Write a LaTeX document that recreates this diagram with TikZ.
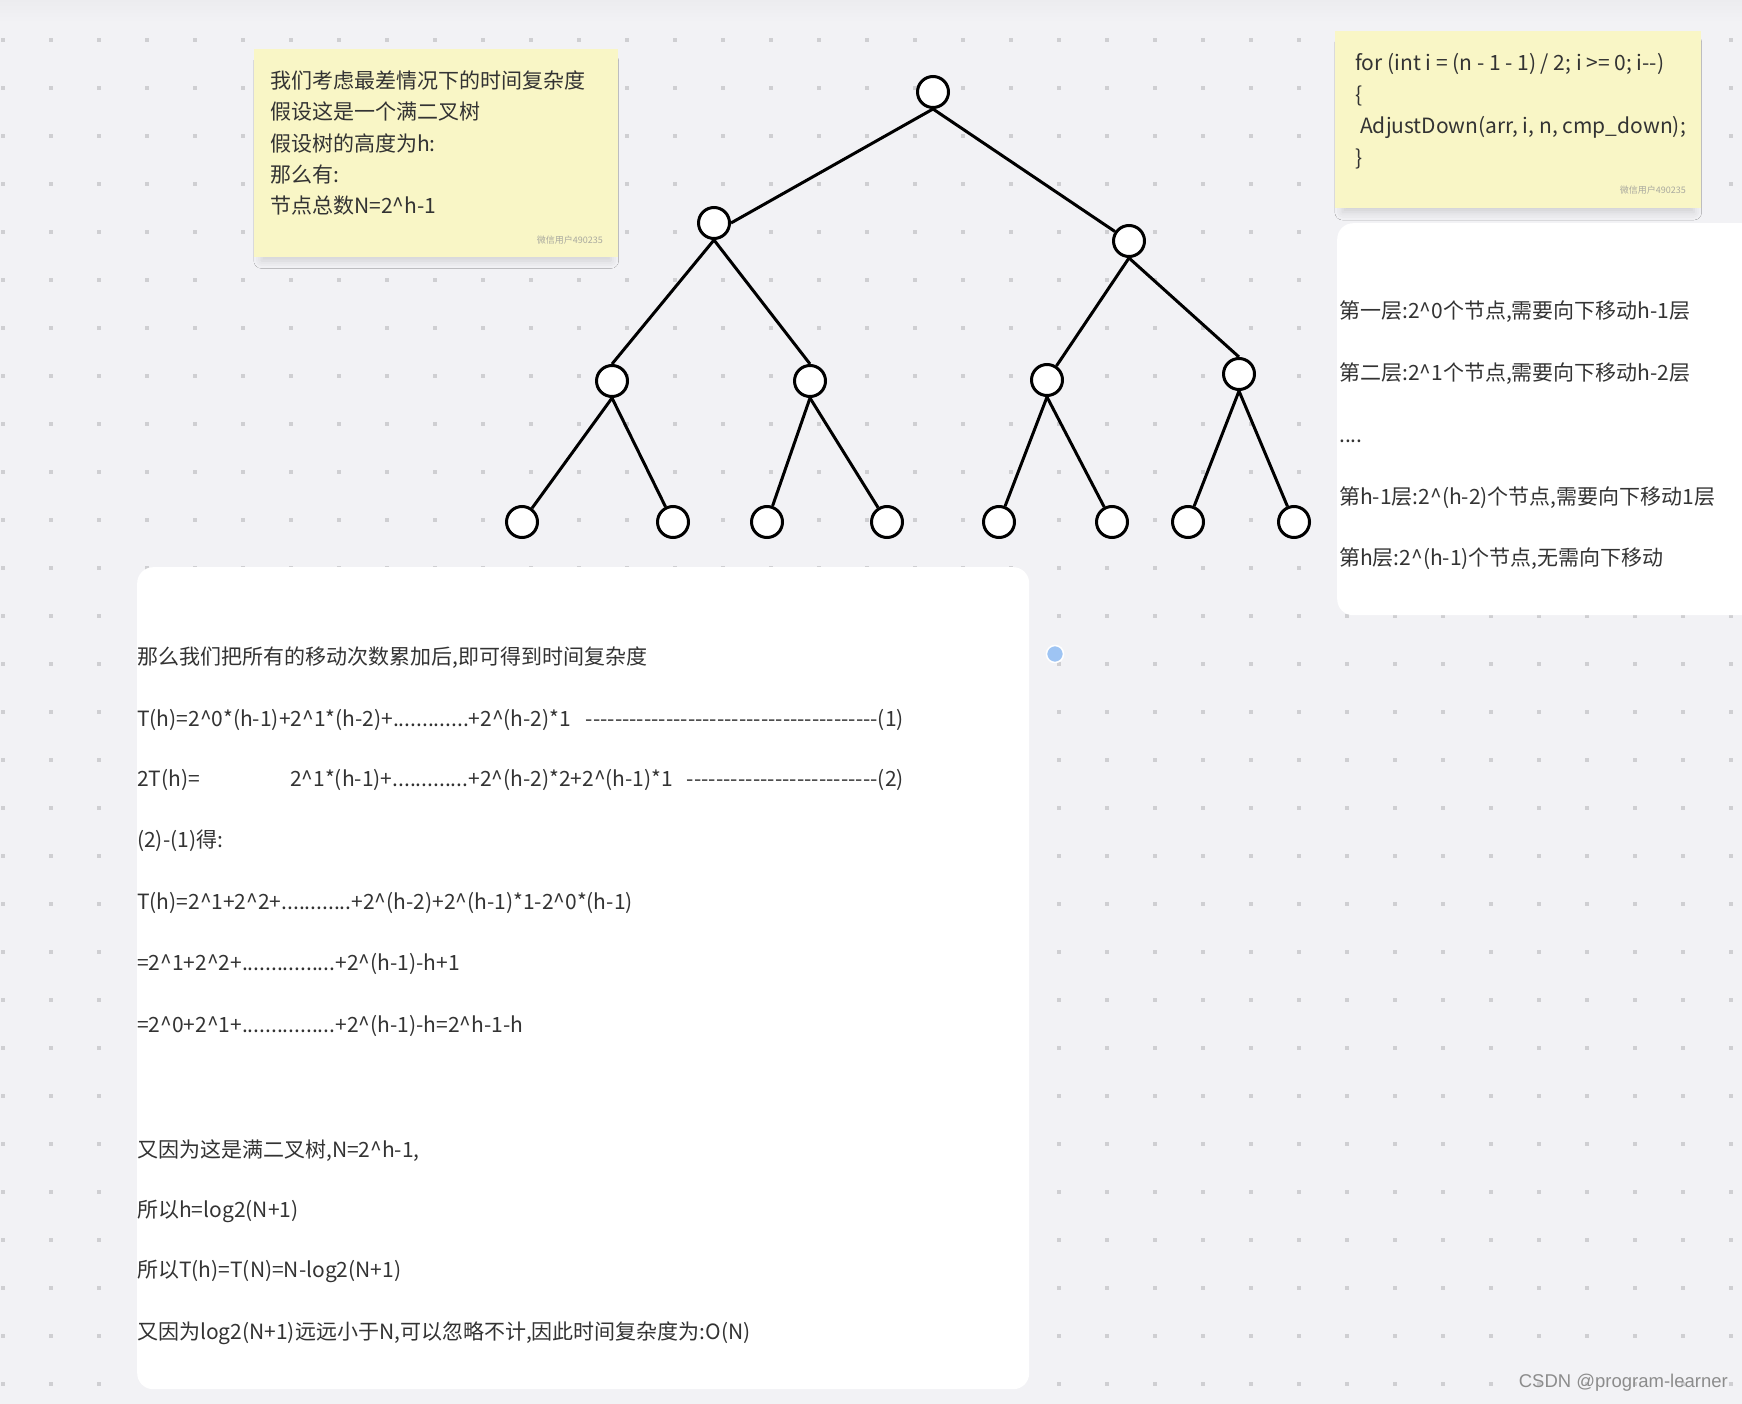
\documentclass[tikz,border=0pt]{standalone}
\usepackage{fontspec}
\setmainfont{Noto Sans CJK SC}
\newfontfamily\wmfont{Liberation Sans}
\usetikzlibrary{shadows.blur}
\definecolor{bgc}{HTML}{F2F2F5}
\definecolor{bgtop}{HTML}{ECECEF}
\definecolor{dotc}{HTML}{CFCFD2}
\definecolor{stickyc}{HTML}{F9F6C6}
\definecolor{txt}{HTML}{333333}
\definecolor{wmc}{HTML}{A9A99F}
\definecolor{bluedot}{HTML}{9EC4F3}
\definecolor{csdn}{HTML}{8C8C8C}
\begin{document}
\begin{tikzpicture}[x=1pt,y=-1pt,
  tnode/.style={circle,draw=black,line width=3pt,fill=white,minimum size=31pt,inner sep=0pt},
  edge/.style={line width=3pt,black},
  stickynote/.style={fill=stickyc,inner sep=0pt,anchor=north west,
    blur shadow={shadow xshift=0pt,shadow yshift=-8pt,shadow blur radius=8pt,shadow opacity=14,shadow scale=0.96}},
  panel/.style={fill=white,inner sep=0pt,anchor=north west,rounded corners=16pt},
  stxt/.style={anchor=base west,inner sep=0pt,text=txt,font=\fontsize{21}{25}\selectfont},
  dtxt/.style={anchor=base east,inner sep=0pt,text=txt,font=\fontsize{21}{25}\selectfont},
  wmtxt/.style={anchor=east,inner sep=0pt,text=wmc,font=\fontsize{9}{10}\selectfont},
]
\useasboundingbox (0,0) rectangle (1742,1404);
\fill[bgc] (0,0) rectangle (1742,1404);
\shade[top color=bgtop,bottom color=bgc] (0,0) rectangle (1742,22);
\foreach \i in {0,...,36}{
  \foreach \j in {0,...,28}{
    \fill[dotc] ({1+48*\i},{38+48*\j}) rectangle ++(4,4);
  }
}

% sticky notes
\node[stickynote,minimum width=364pt,minimum height=208pt] (s1) at (254,49) {};
\node[stickynote,minimum width=366pt,minimum height=177pt] (s2) at (1335,31) {};

% panels
\node[panel,minimum width=892pt,minimum height=822pt] (bp) at (137,567) {};
\node[panel,minimum width=440pt,minimum height=392pt] (rp) at (1337,223) {};
\node[circle,fill=bluedot,draw=white,line width=1.5pt,minimum size=17pt,inner sep=0pt] (bd) at (1055,654) {};

% sticky 1 text
\node[stxt] (s1a) at (270,88.8) {我们考虑最差情况下的时间复杂度};
\node[stxt] (s1b) at (270,119.8) {假设这是一个满二叉树};
\node[stxt] (s1c) at (270,151.8) {假设树的高度为h:};
\node[stxt] (s1d) at (270,182.8) {那么有:};
\node[stxt] (s1e) at (270,213.8) {节点总数N=2\textasciicircum h-1};
\node[wmtxt] (w1) at (603,240) {微信用户490235};

% sticky 2 text
\node[stxt] (s2a) at (1355,70.8) {for (int i = (n - 1 - 1) / 2; i >= 0; i-{}-)};
\node[stxt] (s2b) at (1355,102.3) {\{};
\node[stxt] (s2c) at (1360,133.8) {AdjustDown(arr, i, n, cmp\_down);};
\node[stxt] (s2d) at (1355,165.3) {\}};
\node[wmtxt] (w2) at (1686,190) {微信用户490235};

% right panel text
\node[stxt] (r1t) at (1339,318.8) {第一层:2\textasciicircum 0个节点,需要向下移动h-1层};
\node[stxt] (r2t) at (1339,380.8) {第二层:2\textasciicircum 1个节点,需要向下移动h-2层};
\node[stxt] (r3t) at (1339,442.8) {....};
\node[stxt] (r4t) at (1339,504.8) {第h-1层:2\textasciicircum (h-2)个节点,需要向下移动1层};
\node[stxt] (r5t) at (1339,565.8) {第h层:2\textasciicircum (h-1)个节点,无需向下移动};

% bottom panel text
\node[stxt] (b1) at (137,664.8) {那么我们把所有的移动次数累加后,即可得到时间复杂度};
\node[stxt] (b2) at (137,726.8) {T(h)=2\textasciicircum 0*(h-1)+2\textasciicircum 1*(h-2)+.............+2\textasciicircum (h-2)*1};
\node[dtxt] (b2d) at (904,726.8) {\hbox to 318pt{\xleaders\hbox{-}\hfill(1)}};
\node[stxt] (b3) at (137,786.8) {2T(h)=};
\node[stxt] (b3b) at (290,786.8) {2\textasciicircum 1*(h-1)+.............+2\textasciicircum (h-2)*2+2\textasciicircum (h-1)*1};
\node[dtxt] (b3d) at (904,786.8) {\hbox to 217pt{\xleaders\hbox{-}\hfill(2)}};
\node[stxt] (b4) at (137,847.8) {(2)-(1)得:};
\node[stxt] (b5) at (137,909.8) {T(h)=2\textasciicircum 1+2\textasciicircum 2+............+2\textasciicircum (h-2)+2\textasciicircum (h-1)*1-2\textasciicircum 0*(h-1)};
\node[stxt] (b6) at (137,970.8) {=2\textasciicircum 1+2\textasciicircum 2+................+2\textasciicircum (h-1)-h+1};
\node[stxt] (b7) at (137,1032.8) {=2\textasciicircum 0+2\textasciicircum 1+................+2\textasciicircum (h-1)-h=2\textasciicircum h-1-h};
\node[stxt] (b8) at (137,1157.8) {又因为这是满二叉树,N=2\textasciicircum h-1,};
\node[stxt] (b9) at (137,1217.8) {所以h=log2(N+1)};
\node[stxt] (b10) at (137,1277.8) {所以T(h)=T(N)=N-log2(N+1)};
\node[stxt] (b11) at (137,1339.8) {又因为log2(N+1)远远小于N,可以忽略不计,因此时间复杂度为:O(N)};

% tree
\node[tnode] (rt) at (933,92) {};
\node[tnode] (l1) at (714,223) {};
\node[tnode] (r1) at (1129,241) {};
\node[tnode] (na) at (612,381) {};
\node[tnode] (nb) at (810,381) {};
\node[tnode] (nc) at (1047,380) {};
\node[tnode] (nd) at (1239,374) {};
\node[tnode] (la) at (522,522) {};
\node[tnode] (lb) at (673,522) {};
\node[tnode] (lc) at (767,522) {};
\node[tnode] (ld) at (887,522) {};
\node[tnode] (le) at (999,522) {};
\node[tnode] (lf) at (1112,522) {};
\node[tnode] (lg) at (1188,522) {};
\node[tnode] (lh) at (1294,522) {};
\draw[edge] (rt.south) -- (l1.east);
\draw[edge] (rt.south) -- (r1);
\draw[edge] (l1.south) -- (na.north);
\draw[edge] (l1.south) -- (nb.north);
\draw[edge] (r1.south) -- (nc);
\draw[edge] (r1.south) -- (nd.north);
\draw[edge] (na.south) -- (la);
\draw[edge] (na.south) -- (lb);
\draw[edge] (nb.south) -- (lc);
\draw[edge] (nb.south) -- (ld);
\draw[edge] (nc.south) -- (le);
\draw[edge] (nc.south) -- (lf);
\draw[edge] (nd.south) -- (lg);
\draw[edge] (nd.south) -- (lh);

% watermark
\node[anchor=east,inner sep=0pt,text=csdn,font=\wmfont\fontsize{18.5}{20}\selectfont] (cs) at (1728,1383) {CSDN @program-learner};
\end{tikzpicture}
\end{document}
